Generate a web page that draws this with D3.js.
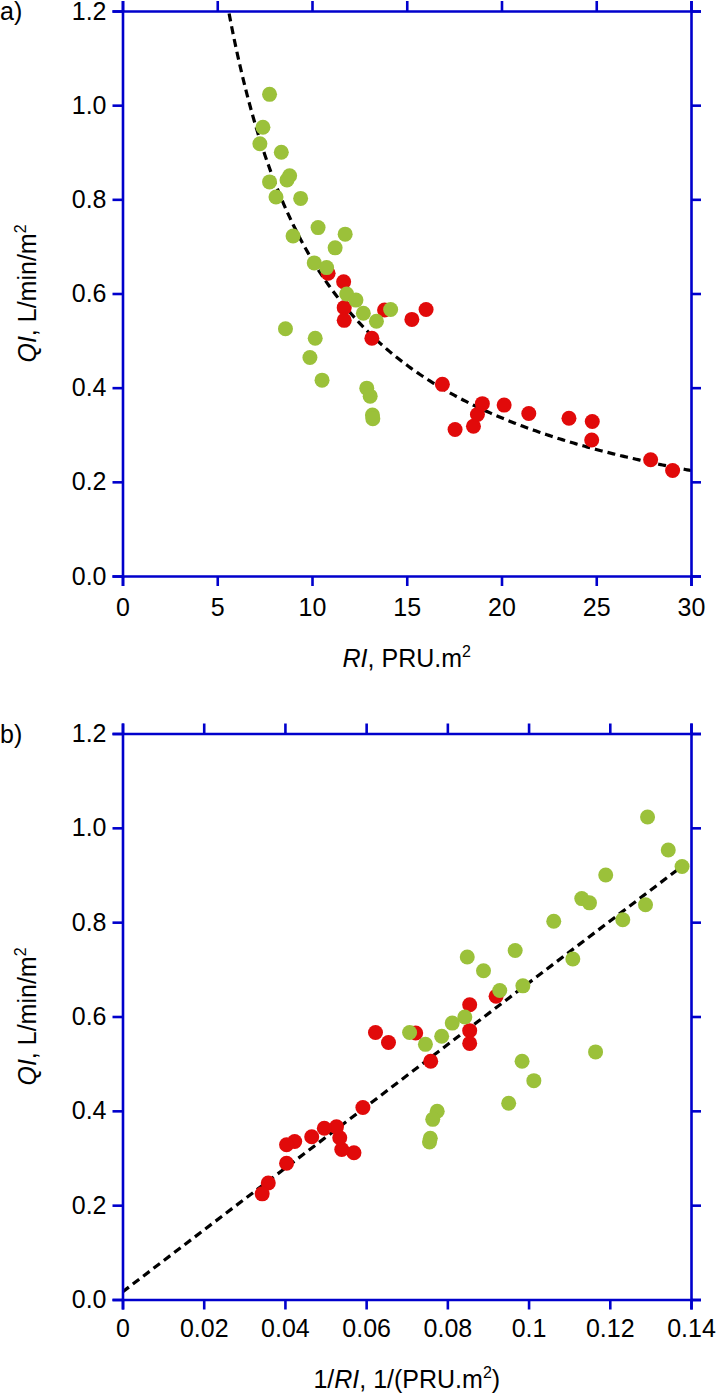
<!DOCTYPE html>
<html>
<head>
<meta charset="utf-8">
<script src="https://cdn.jsdelivr.net/npm/d3@7"></script>
<style>
html,body{margin:0;padding:0;background:#fff;}
svg{display:block;}
text{font-family:"Liberation Sans",Arial,Helvetica,sans-serif;fill:#000;}
</style>
</head>
<body>
<svg id="chart" width="717" height="1398"></svg>
<script>
// ---------- data ----------
// red group: RI (PRU.m2), QI (L/min/m2), 1/RI
const redRI  = [10.85, 11.67, 11.70, 11.70, 13.83, 15.27, 16.02, 13.16, 16.88, 17.55, 18.52, 18.73, 18.99, 20.14, 21.44, 23.56, 24.79, 24.76, 27.87, 29.03];
const redQI  = [0.643, 0.625, 0.570, 0.543, 0.565, 0.545, 0.566, 0.505, 0.407, 0.311, 0.318, 0.343, 0.366, 0.363, 0.345, 0.335, 0.328, 0.289, 0.247, 0.224];
const redInv = [0.0920, 0.0855, 0.0855, 0.0855, 0.0722, 0.0655, 0.0623, 0.0759, 0.0592, 0.0570, 0.0540, 0.0535, 0.0527, 0.0497, 0.0466, 0.0424, 0.0404, 0.0404, 0.0359, 0.0344];
// green group
const greenRI  = [7.76, 7.41, 7.25, 8.38, 8.82, 8.68, 7.76, 8.10, 9.40, 10.32, 11.75, 9.00, 11.22, 10.12, 10.77, 11.83, 12.32, 12.71, 14.15, 13.40, 8.60, 10.17, 9.89, 10.53, 12.89, 13.07, 13.19, 13.21];
const greenQI  = [1.023, 0.953, 0.918, 0.900, 0.850, 0.841, 0.837, 0.805, 0.802, 0.740, 0.726, 0.722, 0.697, 0.665, 0.655, 0.599, 0.586, 0.558, 0.566, 0.541, 0.525, 0.505, 0.464, 0.416, 0.399, 0.382, 0.342, 0.334];
const greenInv = [0.1293, 0.1344, 0.1378, 0.1190, 0.1131, 0.1150, 0.1288, 0.1232, 0.1062, 0.0967, 0.0849, 0.1109, 0.0889, 0.0986, 0.0929, 0.0843, 0.0812, 0.0786, 0.0707, 0.0746, 0.1165, 0.0984, 0.1013, 0.0951, 0.0775, 0.0764, 0.0758, 0.0756];

// fits
const fitTopA = 6.72;            // QI = a / RI
const fitTopRange = [5.5, 30];
const fitBotIntercept = 0.016;   // QI = b + m * (1/RI)
const fitBotSlope = 6.55;
const fitBotRange = [0, 0.138];

// ticks
const yTicks = [0, 0.2, 0.4, 0.6, 0.8, 1.0, 1.2];
const yTickLabels = ["0.0", "0.2", "0.4", "0.6", "0.8", "1.0", "1.2"];
const xTicksA = [0, 5, 10, 15, 20, 25, 30];
const xTickLabelsA = ["0", "5", "10", "15", "20", "25", "30"];
const xTicksB = [0, 0.02, 0.04, 0.06, 0.08, 0.1, 0.12, 0.14];
const xTickLabelsB = ["0", "0.02", "0.04", "0.06", "0.08", "0.1", "0.12", "0.14"];

// ---------- style ----------
const AXIS = "#0000cc";
const RED = "#e10a0a";
const GREEN = "#9bc13a";
const R = 7.5;
const FS = 25;

const svg = d3.select("#chart");

function panel(opt) {
  const x = d3.scaleLinear().domain(opt.xDomain).range([opt.left, opt.right]);
  const y = d3.scaleLinear().domain([0, 1.2]).range([opt.bottom, opt.top]);
  const g = svg.append("g");

  const clipId = "clip" + opt.id;
  svg.append("clipPath").attr("id", clipId).append("rect")
    .attr("x", opt.left).attr("y", opt.top)
    .attr("width", opt.right - opt.left).attr("height", opt.bottom - opt.top);

  // fit line
  const fitG = g.append("g").attr("clip-path", `url(#${clipId})`);
  fitG.append("path")
    .datum(opt.fitPts)
    .attr("d", d3.line().x(d => x(d[0])).y(d => y(d[1])))
    .attr("fill", "none").attr("stroke", "#000")
    .attr("stroke-width", 3.2).attr("stroke-dasharray", "8,5");

  // points: red first, green on top
  const ptsG = g.append("g");
  ptsG.selectAll("circle.red").data(opt.red).join("circle")
    .attr("class", "red").attr("cx", d => x(d[0])).attr("cy", d => y(d[1]))
    .attr("r", R).attr("fill", RED);
  ptsG.selectAll("circle.green").data(opt.green).join("circle")
    .attr("class", "green").attr("cx", d => x(d[0])).attr("cy", d => y(d[1]))
    .attr("r", R).attr("fill", GREEN);

  // axes
  const ax = (a) => a.tickSizeOuter(0).tickSize(10);
  const gL = g.append("g").attr("transform", `translate(${opt.left},0)`)
    .call(ax(d3.axisLeft(y).tickValues(yTicks).tickFormat((d, i) => yTickLabels[i])).tickPadding(6));
  const gR = g.append("g").attr("transform", `translate(${opt.right},0)`)
    .call(ax(d3.axisRight(y).tickValues(yTicks).tickFormat("")));
  const gB = g.append("g").attr("transform", `translate(0,${opt.bottom})`)
    .call(ax(d3.axisBottom(x).tickValues(opt.xTicks).tickFormat((d, i) => opt.xTickLabels[i])).tickPadding(opt.xPad));
  const gT = g.append("g").attr("transform", `translate(0,${opt.top})`)
    .call(ax(d3.axisTop(x).tickValues(opt.xTicks).tickFormat("")));
  [gL, gR, gB, gT].forEach(a => {
    a.selectAll("path.domain").attr("stroke", AXIS).attr("stroke-width", 2.6);
    a.selectAll(".tick line").attr("stroke", AXIS).attr("stroke-width", 2.6);
    a.selectAll(".tick text").attr("font-size", FS)
      .attr("font-family", "'Liberation Sans', Arial, sans-serif").attr("fill", "#000");
  });

  // x title
  const xt = svg.append("text").attr("x", (opt.left + opt.right) / 2).attr("y", opt.xTitleY)
    .attr("text-anchor", "middle").attr("font-size", FS);
  opt.xTitle(xt);

  // y title
  const yt = svg.append("text")
    .attr("transform", `translate(${opt.yTitleX},${(opt.top + opt.bottom) / 2}) rotate(-90)`)
    .attr("text-anchor", "middle").attr("font-size", FS);
  yt.append("tspan").attr("font-style", "italic").text("QI");
  yt.append("tspan").text(", L/min/m");
  yt.append("tspan").attr("font-size", 16).attr("dy", -10).text("2");

  // panel letter
  svg.append("text").attr("x", 0).attr("y", opt.top + 9).attr("font-size", FS).text(opt.letter);
}

const topPts = d3.range(fitTopRange[0], fitTopRange[1] + 0.001, 0.1).map(r => [r, fitTopA / r]);
const botPts = [fitBotRange[0], fitBotRange[1]].map(v => [v, fitBotIntercept + fitBotSlope * v]);

panel({
  id: "a", letter: "a)",
  left: 122.5, right: 691, top: 11, bottom: 576,
  xDomain: [0, 30], xTicks: xTicksA, xTickLabels: xTickLabelsA, xPad: 12,
  red: redRI.map((d, i) => [d, redQI[i]]),
  green: greenRI.map((d, i) => [d, greenQI[i]]),
  fitPts: topPts,
  xTitleY: 667, yTitleX: 36,
  xTitle: t => {
    t.append("tspan").attr("font-style", "italic").text("RI");
    t.append("tspan").text(", PRU.m");
    t.append("tspan").attr("font-size", 16).attr("dy", -10).text("2");
  }
});

panel({
  id: "b", letter: "b)",
  left: 122.5, right: 691, top: 733.5, bottom: 1299.5,
  xDomain: [0, 0.14], xTicks: xTicksB, xTickLabels: xTickLabelsB, xPad: 10,
  red: redInv.map((d, i) => [d, redQI[i]]),
  green: greenInv.map((d, i) => [d, greenQI[i]]),
  fitPts: botPts,
  xTitleY: 1388, yTitleX: 36,
  xTitle: t => {
    t.append("tspan").text("1/");
    t.append("tspan").attr("font-style", "italic").text("RI");
    t.append("tspan").text(", 1/(PRU.m");
    t.append("tspan").attr("font-size", 16).attr("dy", -10).text("2");
    t.append("tspan").attr("dy", 10).text(")");
  }
});
</script>
</body>
</html>
